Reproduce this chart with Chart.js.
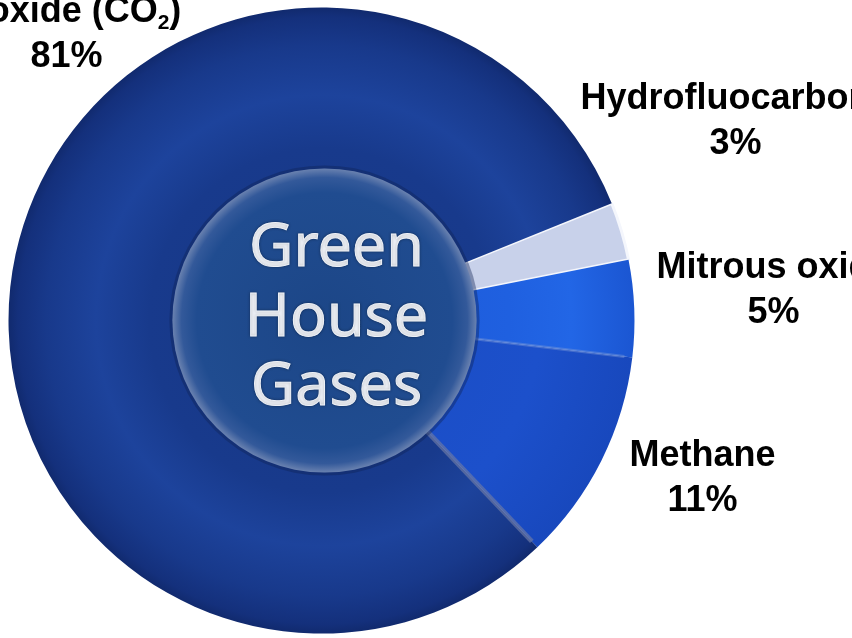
<!DOCTYPE html>
<html>
<head>
<meta charset="utf-8">
<script src="https://cdn.jsdelivr.net/npm/chart.js@4/dist/chart.umd.min.js"></script>
<style>
  body { margin: 0; background: #ffffff; }
  #wrap { width: 852px; height: 638px; position: relative; }
</style>
</head>
<body>
<div id="wrap"><canvas id="gasChart"></canvas></div>
<script>
// shares of green house gases (%), drawn clockwise from the HFC slice
var gasNames = ['Hydrofluocarbons', 'Mitrous oxide', 'Methane', 'Carbon Dioxide (CO2)'];
var gasShares = [3, 5, 11, 81];
var shareLabels = ['3%', '5%', '11%', '81%'];
var centerLines = ['Green', 'House', 'Gases'];

// label text lines (first line of CO2 sits above the visible area, like the picture)
var labelLines = [
    ['Hydrofluocarbons', shareLabels[0]],
    ['Mitrous oxide', shareLabels[1]],
    ['Methane', shareLabels[2]],
    ['Carbon', 'Dioxide (CO|2|)', shareLabels[3]]
];
// where each label block sits, relative to the doughnut centre (x centre, first baseline)
var labelOffsets = [[414, -212], [452, -43], [381, 145], [-255, -344]];

function ringGradient(context, stops)
{
    var chart = context.chart;
    var meta = chart.getDatasetMeta(0);
    var el = meta.data[0];
    if (!chart.chartArea || !el || !el.outerRadius) {
        return stops[0][1];
    }
    var g = chart.ctx.createRadialGradient(el.x, el.y, 0, el.x, el.y, el.outerRadius);
    stops.forEach(function (s) { g.addColorStop(s[0], s[1]); });
    return g;
}

var sliceStops = [
    [[0, '#c8d1ea'], [0.6, '#d2daef'], [1, '#e4e9f6']],
    [[0, '#1c58d6'], [0.6, '#1f60e0'], [0.8, '#2266e6'], [1, '#1b56d2']],
    [[0, '#1a4cc2'], [0.7, '#1c50cb'], [1, '#1848bd']],
    [[0, '#173684'], [0.55, '#183a8c'], [0.72, '#1d439c'], [0.88, '#18398b'], [0.97, '#14307c'], [1, '#112a6e']]
];

var decor = {
    id: 'decor',
    afterDatasetsDraw: function (chart) {
        var ctx = chart.ctx;
        var arcs = chart.getDatasetMeta(0).data;
        var cx = arcs[0].x, cy = arcs[0].y;
        var rIn = arcs[0].innerRadius, rOut = arcs[0].outerRadius;

        // seams between the blue slices
        ctx.save();
        ctx.lineCap = 'butt';
        [[2, 'rgba(120,150,215,0.45)', 3], [3, 'rgba(105,120,165,0.7)', 5]].forEach(function (s) {
            var a = arcs[s[0]].startAngle;
            ctx.strokeStyle = s[1];
            ctx.lineWidth = s[2];
            ctx.beginPath();
            ctx.moveTo(cx + Math.cos(a) * rIn, cy + Math.sin(a) * rIn);
            ctx.lineTo(cx + Math.cos(a) * (rOut - 8), cy + Math.sin(a) * (rOut - 8));
            ctx.stroke();
        });
        ctx.restore();

        // centre disc
        var dx = cx + 3, dr = rIn + 5;
        ctx.save();
        ctx.beginPath();
        ctx.arc(dx, cy, dr + 3, 0, Math.PI * 2);
        ctx.fillStyle = 'rgba(15,35,85,0.4)';
        ctx.fill();
        var g = ctx.createRadialGradient(dx, cy, 0, dx, cy, dr);
        g.addColorStop(0, '#1c4687');
        g.addColorStop(0.84, '#204c90');
        g.addColorStop(0.94, '#33599a');
        g.addColorStop(1, '#6a82b0');
        ctx.beginPath();
        ctx.arc(dx, cy, dr, 0, Math.PI * 2);
        ctx.fillStyle = g;
        ctx.fill();

        ctx.fillStyle = '#eef1f7';
        ctx.font = '61px "Noto Sans"';
        ctx.textAlign = 'center';
        ctx.textBaseline = 'alphabetic';
        ctx.shadowColor = 'rgba(0,0,0,0.35)';
        ctx.shadowBlur = 3;
        ctx.lineWidth = 1;
        ctx.strokeStyle = '#eef1f7';
        var base = [-55, 15, 84];
        centerLines.forEach(function (t, i) {
            ctx.fillText(t, cx + 15, cy + base[i]);
            ctx.strokeText(t, cx + 15, cy + base[i]);
        });
        ctx.restore();
    },
    afterDraw: function (chart) {
        var ctx = chart.ctx;
        var arcs = chart.getDatasetMeta(0).data;
        var cx = arcs[0].x, cy = arcs[0].y;
        ctx.save();
        ctx.fillStyle = '#000000';
        ctx.textBaseline = 'alphabetic';
        var big = 'bold 36px "Liberation Sans", Arial, sans-serif';
        var small = 'bold 21px "Liberation Sans", Arial, sans-serif';
        labelLines.forEach(function (lines, i) {
            var x = cx + labelOffsets[i][0];
            var y = cy + labelOffsets[i][1];
            lines.forEach(function (line, j) {
                var by = y + j * 45;
                var parts = line.split('|');
                // parts alternate: normal, subscript, normal
                var widths = parts.map(function (p, k) {
                    ctx.font = (k % 2 === 1) ? small : big;
                    return ctx.measureText(p).width;
                });
                var total = widths.reduce(function (a, b) { return a + b; }, 0);
                var px = x - total / 2;
                ctx.textAlign = 'left';
                parts.forEach(function (p, k) {
                    ctx.font = (k % 2 === 1) ? small : big;
                    ctx.fillText(p, px, by + ((k % 2 === 1) ? 7 : 0));
                    px += widths[k];
                });
            });
        });
        ctx.restore();
    }
};

var ctx = document.getElementById('gasChart').getContext('2d');

var myChart = new Chart(ctx, {
    type: 'doughnut',
    data: {
        labels: gasNames,
        datasets: [
            {
            label: 'Green House Gases (%)',
            data: gasShares,
            backgroundColor: function (context) {
                return ringGradient(context, sliceStops[context.dataIndex]);
            },
            borderColor: ['#f4f6fc', 'rgba(0,0,0,0)', 'rgba(0,0,0,0)', 'rgba(0,0,0,0)'],
            borderWidth: [3, 0, 0, 0],
            hoverOffset: 0
        },
        ]
    },
    options: {
        responsive: true,
        maintainAspectRatio: false,
        animation: false,
        rotation: 68,
        cutout: '47%',
        layout: {
            padding: { left: 7, top: 6, right: 216, bottom: 3 }
        },
        plugins: {
            legend: { display: false },
            tooltip: { enabled: false }
        }
    },
    plugins: [decor]
});
</script>
</body>
</html>
